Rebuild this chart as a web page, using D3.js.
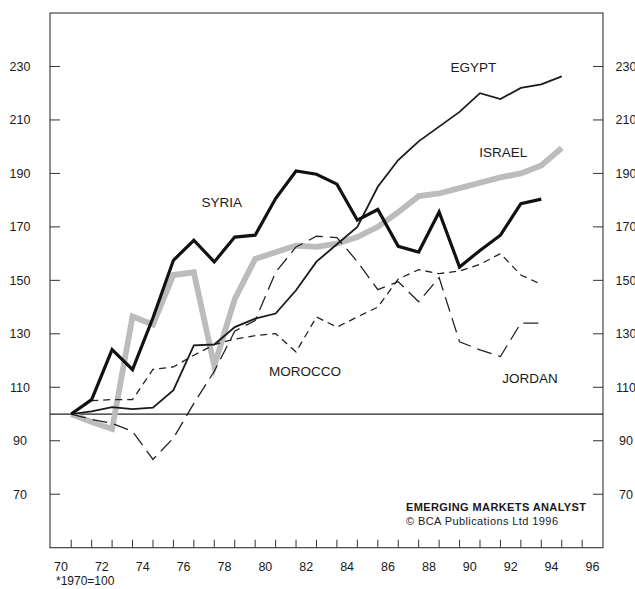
<!DOCTYPE html>
<html><head><meta charset="utf-8">
<script src="https://cdn.jsdelivr.net/npm/d3@7"></script>
<style>
html,body{margin:0;padding:0;background:#fff;}
svg{display:block;font-family:"Liberation Sans",Arial,Helvetica,sans-serif;}
</style></head>
<body><svg id="c" width="635" height="589"></svg>
<script>
// ---- data (index 1970 = 100), annual values starting 1970 ----
const startYear = 1970;
const egypt   = [100, 101, 102.6, 101.8, 102.4, 108.9, 125.7, 126, 132.5, 135.7, 137.6, 146.3, 157, 163.5, 170, 185, 195, 202, 207.5, 213, 220, 217.8, 222, 223.3, 226.3];
const israel  = [100, 97, 94.4, 136.5, 133.5, 152, 153, 118, 143, 158, 160.5, 163, 162.5, 163.7, 166.2, 170, 175.5, 181.5, 182.5, 184.5, 186.5, 188.5, 190, 193, 199.5];
const syria   = [100, 105.4, 124.1, 116.6, 136, 157.5, 165, 156.9, 166.2, 166.9, 180.6, 190.9, 189.7, 186, 172.5, 176.5, 162.7, 160.6, 175.6, 155, 161.2, 166.9, 178.7, 180.4];
const morocco = [100, 105, 105.4, 105.4, 116.7, 117.6, 122, 126, 128, 129.3, 130.1, 123.2, 136.3, 132.5, 136.3, 140, 150.5, 154, 152.5, 153.5, 156, 160, 152, 148.5];
const jordan  = [100, 98, 96.5, 93.5, 83, 91, 104, 116, 131, 135, 153, 162.5, 166.5, 166, 157, 146.5, 149.5, 142, 151, 127, 124, 121.5, 134, 134];
const yTicks = [70, 90, 110, 130, 150, 170, 190, 210, 230];
const xLabels = [70, 72, 74, 76, 78, 80, 82, 84, 86, 88, 90, 92, 94, 96];

const svg = d3.select("#c");
const L = 50, R = 603, T = 13, B = 547.7;
const x = d3.scaleLinear().domain([1970, 1996]).range([61, 592.4]);
const y = d3.scaleLinear().domain([50, 250]).range([B, T]);
const ink = "#1a1a1a";

// frame
svg.append("rect").attr("x", L).attr("y", T).attr("width", R - L).attr("height", B - T)
  .attr("fill", "none").attr("stroke", "#333").attr("stroke-width", 1.1);

// y ticks left & right (inward)
const yt = svg.append("g");
yTicks.forEach(v => {
  yt.append("line").attr("x1", L).attr("x2", L + 10).attr("y1", y(v)).attr("y2", y(v)).attr("stroke", "#333");
  yt.append("line").attr("x1", R - 10).attr("x2", R).attr("y1", y(v)).attr("y2", y(v)).attr("stroke", "#333");
  yt.append("text").attr("x", 20).attr("y", y(v)).attr("dy", "0.36em").attr("text-anchor", "middle")
    .attr("font-size", 12.5).attr("fill", ink).text(v);
  yt.append("text").attr("x", 626).attr("y", y(v)).attr("dy", "0.36em").attr("text-anchor", "middle")
    .attr("font-size", 12.5).attr("fill", ink).text(v);
});

// x ticks (at mid-year) and labels (at year start)
const xt = svg.append("g");
d3.range(1970, 1996).forEach(yr => {
  xt.append("line").attr("x1", x(yr + 0.5)).attr("x2", x(yr + 0.5)).attr("y1", B).attr("y2", B - 8).attr("stroke", "#333");
});
xLabels.forEach(l => {
  xt.append("text").attr("x", x(1900 + l)).attr("y", 571).attr("text-anchor", "middle")
    .attr("font-size", 12.5).attr("fill", ink).text(l);
});
svg.append("text").attr("x", 56).attr("y", 585).attr("font-size", 12).attr("fill", ink).text("*1970=100");

// baseline at 100
svg.append("line").attr("x1", L).attr("x2", R).attr("y1", y(100)).attr("y2", y(100))
  .attr("stroke", "#222").attr("stroke-width", 1.2);

const line = d3.line().x((d, i) => x(startYear + i + 0.5)).y(d => y(d));

function draw(data, stroke, width, dash) {
  svg.append("path").datum(data).attr("d", line).attr("fill", "none")
    .attr("stroke", stroke).attr("stroke-width", width)
    .attr("stroke-dasharray", dash || null).attr("stroke-linejoin", "miter");
}
draw(israel, "#bcbcbc", 5.8);
draw(morocco, "#222", 1.3, "7,5");
draw(jordan, "#222", 1.3, "15,7");
draw(egypt, "#1a1a1a", 1.8);
draw(syria, "#111", 3.2);

// series labels
const lab = [["SYRIA", 221.7, 202.3], ["EGYPT", 473.3, 66.7], ["ISRAEL", 503.3, 152.3], ["MOROCCO", 305, 371], ["JORDAN", 530, 378.3]];
lab.forEach(([t, lx, ly]) => {
  svg.append("text").attr("x", lx).attr("y", ly).attr("dy", "0.36em").attr("text-anchor", "middle")
    .attr("font-size", 13.5).attr("fill", ink).text(t);
});

// source
svg.append("text").attr("x", 406).attr("y", 511).attr("font-size", 11).attr("font-weight", "bold")
  .attr("fill", ink).attr("textLength", 180).text("EMERGING MARKETS ANALYST");
svg.append("text").attr("x", 406).attr("y", 524.5).attr("font-size", 11)
  .attr("fill", ink).attr("textLength", 152).text("\u00A9 BCA Publications Ltd  1996");
</script></body></html>
